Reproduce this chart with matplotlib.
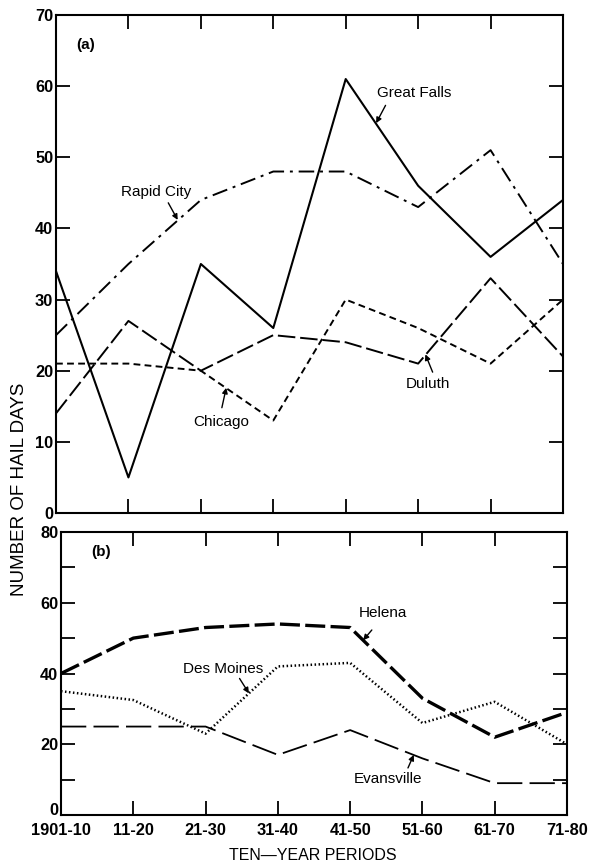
import matplotlib
matplotlib.use("Agg")
import matplotlib.pyplot as plt
from matplotlib.ticker import MultipleLocator, FixedLocator

plt.rcParams['font.family'] = ['Liberation Sans', 'DejaVu Sans']

periods = ["1901-10", "11-20", "21-30", "31-40", "41-50", "51-60", "61-70", "71-80"]

# Panel (a)
great_falls = [34, 5, 35, 26, 61, 46, 36, 44]
rapid_city = [25, 35, 44, 48, 48, 43, 51, 35]
duluth = [14, 27, 20, 25, 24, 21, 33, 22]
chicago = [21, 21, 20, 13, 30, 26, 21, 30]

# Panel (b)
helena = [40, 50, 53, 54, 53, 33, 22, 29]
des_moines = [35, 32.5, 23, 42, 43, 26, 32, 20]
evansville = [25, 25, 25, 17, 24, 16, 9, 9]

x = list(range(len(periods)))

fig = plt.figure(figsize=(5.93, 8.63), dpi=100)
axa = fig.add_axes([56/593, 1-513/863, 507/593, (513-15)/863])
axb = fig.add_axes([61/593, 1-815/863, 506/593, (815-532)/863])

TICK_FS = 11.8

def style_axes(ax, ymax, major):
    ax.set_xlim(0, len(periods)-1)
    ax.set_ylim(0, ymax)
    for s in ax.spines.values():
        s.set_linewidth(1.5)
    ax.xaxis.set_major_locator(FixedLocator(x))
    ax.yaxis.set_major_locator(MultipleLocator(major))
    ax.tick_params(direction='in', length=10, width=1.3, top=True, right=True,
                   labelsize=TICK_FS, pad=2)

# Panel (a)
axa.plot(x, great_falls, color='black', lw=1.5, linestyle='-')
axa.plot(x, rapid_city, color='black', lw=1.4, linestyle=(0, (8, 3, 1.5, 3)))
axa.plot(x, duluth, color='black', lw=1.4, linestyle=(0, (9, 2.5)))
axa.plot(x, chicago, color='black', lw=1.4, linestyle=(0, (3.5, 2.2)))
style_axes(axa, 70, 10)
axa.set_xticklabels([])
axa.set_yticks(range(0, 71, 10))
axa.set_yticklabels([str(v) for v in range(0, 71, 10)], fontweight='bold', fontsize=TICK_FS)

arw = dict(arrowstyle='-|>', color='black', lw=1.0, mutation_scale=8, shrinkA=0, shrinkB=0)
tk = dict(fontsize=11, ha='center', va='center')
axa.text(0.41, 65.8, "(a)", fontsize=11, fontweight='bold', ha='center', va='center')
axa.annotate("", xy=(1.68, 41.2), xytext=(1.55, 43.6), arrowprops=arw)
axa.text(1.38, 45.1, "Rapid City", **tk)
axa.annotate("", xy=(4.42, 54.8), xytext=(4.55, 57.3), arrowprops=arw)
axa.text(4.94, 59.1, "Great Falls", **tk)
axa.annotate("", xy=(2.35, 17.6), xytext=(2.29, 14.8), arrowprops=arw)
axa.text(2.28, 12.8, "Chicago", **tk)
axa.annotate("", xy=(5.1, 22.3), xytext=(5.2, 19.8), arrowprops=arw)
axa.text(5.14, 18.2, "Duluth", **tk)

# Panel (b)
axb.plot(x, helena, color='black', lw=2.4, linestyle=(0, (6, 1.6)))
axb.plot(x, des_moines, color='black', lw=1.8, linestyle=(0, (0.6, 1.0)))
axb.plot(x, evansville, color='black', lw=1.3, linestyle=(0, (14, 4)))
style_axes(axb, 80, 10)
axb.set_yticks(range(0, 81, 10))
ylabs_b = axb.set_yticklabels([str(v) if v % 20 == 0 else "" for v in range(0, 81, 10)],
                              fontweight='bold', fontsize=TICK_FS)
ylabs_b[0].set_va('baseline')
axb.set_xticklabels(periods, fontweight='bold', fontsize=TICK_FS)
axb.tick_params(axis='x', pad=6)

axb.text(0.55, 74.3, "(b)", fontsize=11, fontweight='bold', ha='center', va='center')
axb.annotate("", xy=(2.6, 34.4), xytext=(2.47, 38.6), arrowprops=arw)
axb.text(2.24, 41.2, "Des Moines", **tk)
axb.annotate("", xy=(4.18, 49.4), xytext=(4.3, 52.3), arrowprops=arw)
axb.text(4.45, 57.0, "Helena", **tk)
axb.annotate("", xy=(4.88, 17.0), xytext=(4.8, 13.3), arrowprops=arw)
axb.text(4.52, 10.2, "Evansville", **tk)

fig.text(20/593, 1-489/863, "NUMBER OF HAIL DAYS", rotation=90, ha='center', va='center',
         fontsize=13.5)
fig.text(313/593, 1-855/863, "TEN\u2014YEAR PERIODS", ha='center', va='center', fontsize=11.5)

fig.savefig("out.png", dpi=100)
